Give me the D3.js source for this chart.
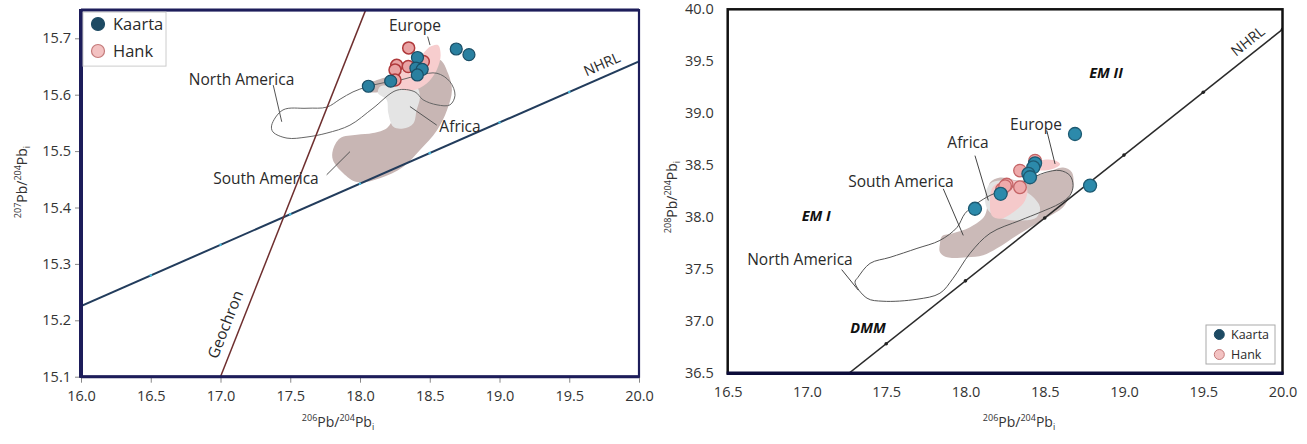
<!DOCTYPE html>
<html><head><meta charset="utf-8">
<script src="https://cdn.jsdelivr.net/npm/d3@7/dist/d3.min.js"></script>
<style>body{margin:0;background:#fff}svg{display:block}text{font-family:"Open Sans",sans-serif}</style>
</head><body>
<svg id="c" width="1307" height="444"></svg>
<script>
// ---------- DATA ----------
const seriesNames = ["Kaarta", "Hank"];
// Left panel: 206Pb/204Pb vs 207Pb/204Pb
const kaarta207 = [[18.06,15.615],[18.22,15.624],[18.412,15.666],[18.401,15.647],[18.446,15.645],[18.411,15.635],[18.69,15.681],[18.781,15.671]];
const hank207 = [[18.349,15.683],[18.263,15.652],[18.251,15.644],[18.346,15.650],[18.454,15.659],[18.251,15.626]];
// Right panel: 206Pb/204Pb vs 208Pb/204Pb
const kaarta208 = [[18.691,38.801],[18.786,38.305],[18.06,38.082],[18.222,38.226],[18.439,38.519],[18.428,38.481],[18.397,38.418],[18.407,38.385]];
const hank208 = [[18.439,38.545],[18.344,38.449],[18.26,38.315],[18.231,38.267],[18.344,38.289],[18.25,38.30]];
// tick values
const xTicksL = [16.0,16.5,17.0,17.5,18.0,18.5,19.0,19.5,20.0];
const yTicksL = [15.1,15.2,15.3,15.4,15.5,15.6,15.7];
const xTicksR = [16.5,17.0,17.5,18.0,18.5,19.0,19.5,20.0];
const yTicksR = [36.5,37.0,37.5,38.0,38.5,39.0,39.5,40.0];
// reference lines
const nhrl207 = {slope:0.1084, intercept:13.491};
const nhrl208 = {slope:1.209, intercept:15.627};
const geochron = [[17.0,15.1],[18.04,15.75]];
// fields (outlines) left
const naField207 = [[17.367,15.546],[17.448,15.573],[17.62,15.576],[17.763,15.578],[17.857,15.592],[17.95,15.605],[18.05,15.614],[18.165,15.621],[18.287,15.626],[18.43,15.635],[18.552,15.638],[18.645,15.623],[18.681,15.599],[18.645,15.582],[18.552,15.582],[18.452,15.591],[18.394,15.605],[18.265,15.608],[18.093,15.576],[17.928,15.546],[17.763,15.532],[17.62,15.525],[17.477,15.523],[17.376,15.534]];
const saField207 = [[17.806,15.502],[17.857,15.523],[17.978,15.529],[18.093,15.532],[18.194,15.541],[18.237,15.561],[18.229,15.585],[18.194,15.603],[18.072,15.605],[18.036,15.617],[18.122,15.626],[18.287,15.64],[18.43,15.662],[18.573,15.662],[18.631,15.638],[18.659,15.608],[18.624,15.573],[18.552,15.537],[18.43,15.502],[18.308,15.472],[18.143,15.452],[17.978,15.445],[17.878,15.461],[17.806,15.484]];
const afField207 = [[18.143,15.614],[18.129,15.603],[18.191,15.591],[18.203,15.567],[18.239,15.543],[18.31,15.54],[18.382,15.549],[18.406,15.573],[18.43,15.596],[18.406,15.614],[18.31,15.62],[18.215,15.617]];
const euField207 = [[18.502,15.685],[18.559,15.688],[18.578,15.670],[18.55,15.644],[18.478,15.62],[18.382,15.608],[18.287,15.611],[18.275,15.629],[18.335,15.65],[18.43,15.667]];
// fields right
const naField208 = [[17.303,37.375],[17.322,37.423],[17.398,37.557],[17.524,37.615],[17.694,37.701],[17.839,37.778],[17.947,37.903],[17.997,38.037],[18.073,38.134],[18.155,38.21],[18.281,38.287],[18.388,38.354],[18.502,38.43],[18.596,38.45],[18.659,38.402],[18.679,38.306],[18.659,38.21],[18.596,38.134],[18.47,38.047],[18.344,37.97],[18.155,37.846],[18.029,37.654],[17.922,37.414],[17.839,37.27],[17.694,37.212],[17.48,37.193],[17.379,37.222]];
const saField208 = [[17.839,37.749],[17.852,37.817],[17.921,37.846],[18.029,37.904],[18.123,38.019],[18.142,38.211],[18.155,38.334],[18.218,38.382],[18.344,38.353],[18.426,38.382],[18.515,38.43],[18.616,38.478],[18.672,38.43],[18.679,38.286],[18.659,38.21],[18.614,38.095],[18.515,37.999],[18.344,37.845],[18.199,37.702],[18.111,37.634],[18.01,37.615],[17.884,37.615],[17.839,37.663]];
const afField208 = [[18.155,38.322],[18.123,38.193],[18.144,38.066],[18.239,37.986],[18.365,37.97],[18.45,38.001],[18.47,38.097],[18.428,38.193],[18.365,38.257],[18.281,38.322],[18.218,38.353]];
const hkField208 = [[18.197,38.322],[18.302,38.353],[18.386,38.289],[18.376,38.162],[18.302,38.049],[18.218,37.986],[18.166,38.018],[18.155,38.162],[18.166,38.274]];
const euField208 = [[18.407,38.481],[18.47,38.545],[18.554,38.552],[18.597,38.513],[18.576,38.481],[18.491,38.449]];
// annotations: text, anchor [x,y], leader [[x1,y1],[x2,y2]]
const labels207 = [
  {t:"North America", p:[17.151,15.626], l:[[17.378,15.617],[17.439,15.552]]},
  {t:"South America", p:[17.326,15.452], l:[[17.761,15.458],[17.928,15.499]]},
  {t:"Europe", p:[18.394,15.722], l:[[18.485,15.703],[18.502,15.688]]},
  {t:"Africa", p:[18.717,15.543], l:[[18.358,15.579],[18.55,15.546]]}
];
const labels208 = [
  {t:"North America", p:[16.956,37.596], l:[[17.219,37.497],[17.324,37.299]]},
  {t:"South America", p:[17.593,38.344], l:[[17.86,38.274],[17.986,37.826]]},
  {t:"Africa", p:[18.016,38.718], l:[[18.06,38.593],[18.144,38.162]]},
  {t:"Europe", p:[18.445,38.89], l:[[18.513,38.834],[18.565,38.513]]}
];
const emLabels = [{t:"EM II", p:[18.887,39.389]},{t:"EM I", p:[17.058,38.018]},{t:"DMM", p:[17.385,36.934]}];

// ---------- DRAW ----------
const svg = d3.select("#c");
svg.append("rect").attr("width",1307).attr("height",444).attr("fill","#fff");
const defs = svg.append("defs");
const TXT = "#333";

function pbLabel(g, x, y, a, b, rot) {
  const t = g.append("text").attr("text-anchor","middle").attr("fill",TXT).attr("font-size",14)
    .attr("transform",`translate(${x},${y}) rotate(${rot})`);
  t.append("tspan").attr("font-size",9).attr("dy",-6).text(a);
  t.append("tspan").attr("dy",6).text("Pb/");
  t.append("tspan").attr("font-size",9).attr("dy",-6).text(b);
  t.append("tspan").attr("dy",6).text("Pb");
  t.append("tspan").attr("font-size",9).attr("dy",3).text("i");
}

function panel(opt) {
  const {x, y, xTicks, yTicks, id} = opt;
  const g = svg.append("g");
  const [x0,x1] = x.range(), [y0,y1] = y.range();
  defs.append("clipPath").attr("id",id).append("rect")
    .attr("x",x0).attr("y",y1).attr("width",x1-x0).attr("height",y0-y1);
  const ax = g.append("g").attr("transform",`translate(0,${y0})`)
    .call(d3.axisBottom(x).tickValues(xTicks).tickFormat(d3.format(".1f")).tickSize(opt.tick).tickPadding(opt.xpad));
  const ay = g.append("g").attr("transform",`translate(${x0},0)`)
    .call(d3.axisLeft(y).tickValues(yTicks).tickFormat(d3.format(".1f")).tickSize(opt.tick).tickPadding(opt.ypad));
  [ax,ay].forEach(a=>{
    a.select(".domain").remove();
    a.selectAll("line").attr("stroke","#888");
    a.selectAll("text").attr("font-size",14.5).attr("fill",TXT).attr("font-family","Open Sans, sans-serif");
  });
  const plot = g.append("g").attr("clip-path",`url(#${id})`);
  return {g, plot, x, y};
}

const shape = (x,y) => d3.line().x(d=>x(d[0])).y(d=>y(d[1])).curve(d3.curveCatmullRomClosed.alpha(0.5));

// ===== LEFT PANEL =====
const xL = d3.scaleLinear([16,20],[81,639]);
const yL = d3.scaleLinear([15.1,15.75],[376.7,10.1]);
const L = panel({x:xL, y:yL, xTicks:xTicksL, yTicks:yTicksL, id:"clipL", tick:6, ypad:4, xpad:8});
const sL = shape(xL,yL);
L.plot.append("path").attr("d",sL(saField207)).attr("fill","#c8b6b4");
L.plot.append("path").attr("d",sL(afField207)).attr("fill","#e4e4e4");
L.plot.append("path").attr("d",sL(euField207)).attr("fill","#f7cdce");
L.plot.append("path").attr("d",sL(naField207)).attr("fill","none").attr("stroke","#666").attr("stroke-width",1);
const nh207 = d => nhrl207.slope*d + nhrl207.intercept;
L.plot.append("line").attr("x1",xL(16)).attr("y1",yL(nh207(16))).attr("x2",xL(20)).attr("y2",yL(nh207(20)))
  .attr("stroke","#223c5c").attr("stroke-width",2);
L.plot.selectAll(".nhd").data(xTicksL).join("circle").attr("cx",d=>xL(d)).attr("cy",d=>yL(nh207(d))).attr("r",1.3).attr("fill","#45b6d6");
L.plot.append("line").attr("x1",xL(geochron[0][0])).attr("y1",yL(geochron[0][1]))
  .attr("x2",xL(geochron[1][0])).attr("y2",yL(geochron[1][1])).attr("stroke","#6e2e2e").attr("stroke-width",1.5);
labels207.forEach(a=>{
  L.g.append("line").attr("x1",xL(a.l[0][0])).attr("y1",yL(a.l[0][1])).attr("x2",xL(a.l[1][0])).attr("y2",yL(a.l[1][1]))
    .attr("stroke","#555").attr("stroke-width",1);
  L.g.append("text").attr("x",xL(a.p[0])).attr("y",yL(a.p[1])).attr("dy","0.35em").attr("text-anchor","middle")
    .attr("font-size",15.5).attr("fill","#2a2a2a").text(a.t);
});
{
  const ang = Math.atan2(yL(geochron[1][1])-yL(geochron[0][1]), xL(geochron[1][0])-xL(geochron[0][0]))*180/Math.PI;
  const gy = 15.183, gx = geochron[0][0] + (gy-geochron[0][1])*(geochron[1][0]-geochron[0][0])/(geochron[1][1]-geochron[0][1]);
  L.g.append("text").attr("transform",`translate(${xL(gx)},${yL(gy)}) rotate(${ang})`).attr("text-anchor","middle")
    .attr("dy","-0.6em").attr("font-size",15.5).attr("fill","#2a2a2a").text("Geochron");
  const ang2 = Math.atan2(yL(nh207(20))-yL(nh207(16)), xL(20)-xL(16))*180/Math.PI;
  L.g.append("text").attr("transform",`translate(${xL(19.77)},${yL(nh207(19.77))}) rotate(${ang2})`).attr("text-anchor","middle")
    .attr("dy","-0.5em").attr("font-size",14.5).attr("fill","#2a2a2a").text("NHRL");
}
L.plot.selectAll(".h").data(hank207).join("circle").attr("cx",d=>xL(d[0])).attr("cy",d=>yL(d[1])).attr("r",6)
  .attr("fill","#e9a3a4").attr("stroke","#b03a3c").attr("stroke-width",1.5);
L.plot.selectAll(".k").data(kaarta207).join("circle").attr("cx",d=>xL(d[0])).attr("cy",d=>yL(d[1])).attr("r",6)
  .attr("fill","#2a80a0").attr("stroke","#1a4e66").attr("stroke-width",1.2);
// frame
L.g.append("rect").attr("x",xL(16)).attr("y",yL(15.75)).attr("width",xL(20)-xL(16)).attr("height",yL(15.1)-yL(15.75))
  .attr("fill","none").attr("stroke","#1d1d5a").attr("stroke-width",2.2);
L.g.append("line").attr("x1",xL(16)).attr("x2",xL(16)).attr("y1",yL(15.75)-1).attr("y2",yL(15.1)+1).attr("stroke","#1d1d5a").attr("stroke-width",4);
L.g.append("line").attr("x1",xL(16)).attr("x2",xL(20)).attr("y1",yL(15.1)).attr("y2",yL(15.1)).attr("stroke","#1d1d5a").attr("stroke-width",3);
L.g.append("line").attr("x1",xL(16)).attr("x2",xL(20)).attr("y1",yL(15.75)).attr("y2",yL(15.75)).attr("stroke","#1d1d5a").attr("stroke-width",3);
{
  const lg = L.g.append("g");
  lg.append("rect").attr("x",xL(16)+2).attr("y",yL(15.75)+2).attr("width",83).attr("height",54).attr("fill","#fff").attr("stroke","#ccc");
  const cols = [{f:"#1d4a63",s:"#1d4a63"},{f:"#f3c2c2",s:"#c47a7a"}];
  seriesNames.forEach((n,i)=>{
    lg.append("circle").attr("cx",98).attr("cy",24+i*27).attr("r",6.5).attr("fill",cols[i].f).attr("stroke",cols[i].s).attr("stroke-width",1.2);
    lg.append("text").attr("x",113).attr("y",24+i*27).attr("dy","0.36em").attr("font-size",16.5).attr("fill","#2a2a2a").text(n);
  });
}
pbLabel(svg, 338, 427, "206", "204", 0);
pbLabel(svg, 27, 182, "207", "204", -90);

// ===== RIGHT PANEL =====
const xR = d3.scaleLinear([16.5,20],[727.7,1282.5]);
const yR = d3.scaleLinear([36.5,40],[373.3,9.3]);
const R = panel({x:xR, y:yR, xTicks:xTicksR, yTicks:yTicksR, id:"clipR", tick:0, ypad:14, xpad:13});
const sR = shape(xR,yR);
R.plot.append("path").attr("d",sR(saField208)).attr("fill","#cbbab8");
R.plot.append("path").attr("d",sR(afField208)).attr("fill","#e3e3e3");
R.plot.append("path").attr("d",sR(hkField208)).attr("fill","#f5c9ca");
R.plot.append("path").attr("d",sR(euField208)).attr("fill","#f5c9ca");
R.plot.append("path").attr("d",sR(naField208)).attr("fill","none").attr("stroke","#555").attr("stroke-width",1);
const nh208 = d => nhrl208.slope*d + nhrl208.intercept;
R.plot.append("line").attr("x1",xR(17)).attr("y1",yR(nh208(17))).attr("x2",xR(20)).attr("y2",yR(nh208(20)))
  .attr("stroke","#2a2a2a").attr("stroke-width",1.5);
R.plot.selectAll(".nm").data([17.5,18.0,18.5,19.0,19.5,20.0]).join("circle").attr("cx",d=>xR(d)).attr("cy",d=>yR(nh208(d))).attr("r",1.8).attr("fill","#222");
labels208.forEach(a=>{
  R.g.append("line").attr("x1",xR(a.l[0][0])).attr("y1",yR(a.l[0][1])).attr("x2",xR(a.l[1][0])).attr("y2",yR(a.l[1][1]))
    .attr("stroke","#444").attr("stroke-width",1);
  R.g.append("text").attr("x",xR(a.p[0])).attr("y",yR(a.p[1])).attr("dy","0.35em").attr("text-anchor","middle")
    .attr("font-size",15.5).attr("fill","#2a2a2a").text(a.t);
});
emLabels.forEach(a=>{
  R.g.append("text").attr("x",xR(a.p[0])).attr("y",yR(a.p[1])).attr("dy","0.35em").attr("text-anchor","middle")
    .attr("font-size",14.5).attr("font-weight","bold").attr("font-style","italic").attr("fill","#111").text(a.t);
});
{
  const ang = Math.atan2(yR(nh208(20))-yR(nh208(17)), xR(20)-xR(17))*180/Math.PI;
  R.g.append("text").attr("transform",`translate(${xR(19.83)},${yR(nh208(19.83))}) rotate(${ang})`).attr("text-anchor","middle")
    .attr("dy","-0.5em").attr("font-size",14.5).attr("fill","#2a2a2a").text("NHRL");
}
R.plot.selectAll(".h").data(hank208).join("circle").attr("cx",d=>xR(d[0])).attr("cy",d=>yR(d[1])).attr("r",6.3)
  .attr("fill","#eeaaab").attr("stroke","#c46466").attr("stroke-width",1.3);
R.plot.selectAll(".k").data(kaarta208).join("circle").attr("cx",d=>xR(d[0])).attr("cy",d=>yR(d[1])).attr("r",6.5)
  .attr("fill","#2c8aab").attr("stroke","#1d5a72").attr("stroke-width",1.3);
R.g.append("rect").attr("x",xR(16.5)).attr("y",yR(40)).attr("width",xR(20)-xR(16.5)).attr("height",yR(36.5)-yR(40))
  .attr("fill","none").attr("stroke","#111").attr("stroke-width",2.5);
R.g.append("line").attr("x1",xR(16.5)-1).attr("x2",xR(20)+1).attr("y1",yR(36.5)).attr("y2",yR(36.5)).attr("stroke","#0c0c3a").attr("stroke-width",3.5);
{
  const lg = R.g.append("g");
  lg.append("rect").attr("x",1206).attr("y",325).attr("width",69).attr("height",39).attr("fill","#fff").attr("stroke","#aaa");
  const cols = [{f:"#1d4a63",s:"#1d4a63"},{f:"#f3c2c2",s:"#c47a7a"}];
  seriesNames.forEach((n,i)=>{
    lg.append("circle").attr("cx",1219.3).attr("cy",334.5+i*20).attr("r",5).attr("fill",cols[i].f).attr("stroke",cols[i].s).attr("stroke-width",1);
    lg.append("text").attr("x",1231).attr("y",334.5+i*20).attr("dy","0.36em").attr("font-size",12.5).attr("fill","#2a2a2a").text(n);
  });
}
pbLabel(svg, 1019, 427, "206", "204", 0);
pbLabel(svg, 677, 197, "208", "204", -90);
</script>
</body></html>
